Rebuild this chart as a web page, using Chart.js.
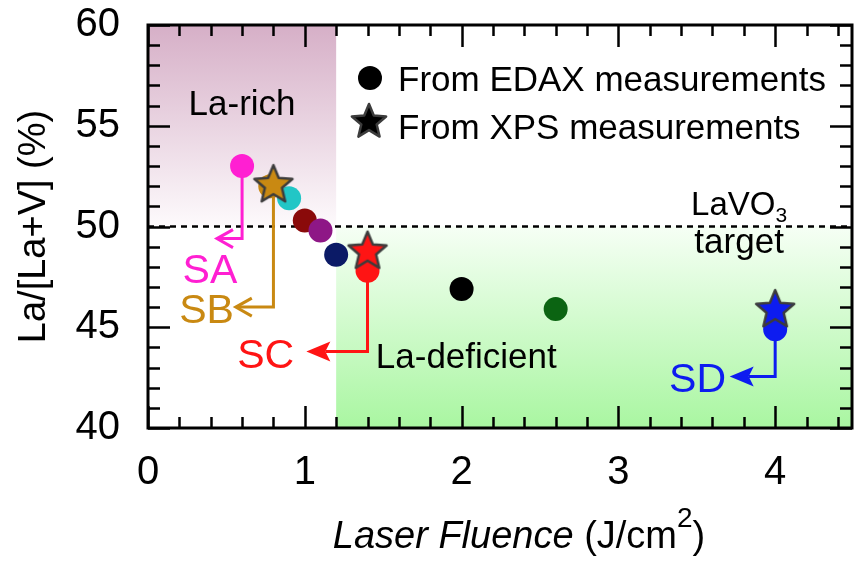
<!DOCTYPE html>
<html>
<head>
<meta charset="utf-8">
<script src="https://cdn.jsdelivr.net/npm/chart.js@4.4.1/dist/chart.umd.min.js"></script>
<style>
  html, body { margin: 0; padding: 0; background: #fff; }
</style>
</head>
<body>
<canvas id="fluenceChart" width="854" height="561"></canvas>
<script>
// EDAX results (circles)
const edaxFluence = [0.6, 0.78, 0.9, 1.0, 1.1, 1.2, 1.4, 2.0, 2.6, 4.0];
const edaxRatio = [53.0, 52.0, 51.4, 50.3, 49.8, 48.6, 47.8, 46.9, 45.9, 44.9];
const edaxColors = ['#ff1fd2', '#c98912', '#22c6c6', '#8a0a0a', '#8e1786', '#0b1a66', '#ff1414', '#000000', '#0b6412', '#0d1cf0'];

// XPS results (stars)
const xpsFluence = [0.8, 1.4, 4.0];
const xpsRatio = [52.1, 48.8, 45.9];
const xpsColors = ['#c98912', '#ff1414', '#0d1cf0'];

// axes
const xTicks = [0, 1, 2, 3, 4];
const yTicks = [40, 45, 50, 55, 60];
const targetRatio = 50;   // LaVO3 target
const richLimit = 1.2;    // fluence boundary of the shaded areas

// sample callouts (data units): start point, bend y, arrow tip x, label position
const callouts = [
  { name: 'SA', color: '#ff1fd2', x0: 0.6, y0: 53.0, yBend: 49.4, xTip: 0.44, lx: 0.395, ly: 47.2, head: 'open' },
  { name: 'SB', color: '#c98912', x0: 0.8, y0: 52.1, yBend: 46.0, xTip: 0.56, lx: 0.373, ly: 45.2, head: 'open' },
  { name: 'SC', color: '#ff1414', x0: 1.4, y0: 47.8, yBend: 43.8, xTip: 1.01, lx: 0.751, ly: 43.0, head: 'solid' },
  { name: 'SD', color: '#0d1cf0', x0: 4.0, y0: 44.9, yBend: 42.55, xTip: 3.71, lx: 3.505, ly: 41.8, head: 'solid' }
];

const FONT = "'Liberation Sans', Arial, Helvetica, sans-serif";

function starPath(ctx, cx, cy, rOut, rIn) {
  ctx.beginPath();
  for (let i = 0; i < 10; i++) {
    const r = i % 2 === 0 ? rOut : rIn;
    const a = -Math.PI / 2 + i * Math.PI / 5;
    const px = cx + r * Math.cos(a), py = cy + r * Math.sin(a);
    if (i === 0) ctx.moveTo(px, py); else ctx.lineTo(px, py);
  }
  ctx.closePath();
}

function makeStar(color, rOut) {
  const c = document.createElement('canvas');
  const size = Math.ceil(rOut * 2 + 6);
  c.width = size; c.height = size;
  const g = c.getContext('2d');
  starPath(g, size / 2, size / 2 + 1, rOut, rOut * 0.45);
  g.fillStyle = color;
  g.fill();
  g.lineWidth = 2.5;
  g.lineJoin = 'round';
  g.strokeStyle = '#3c3c3c';
  g.stroke();
  return c;
}

const starImages = xpsColors.map(c => makeStar(c, 20));
const legendStar = makeStar('#000000', 18);

function arrowHead(ctx, tipX, tipY, kind, color) {
  ctx.save();
  if (kind === 'open') {
    ctx.beginPath();
    ctx.moveTo(tipX + 16, tipY - 9);
    ctx.lineTo(tipX, tipY);
    ctx.lineTo(tipX + 16, tipY + 9);
    ctx.strokeStyle = color;
    ctx.lineWidth = 3;
    ctx.stroke();
  } else {
    ctx.beginPath();
    ctx.moveTo(tipX, tipY);
    ctx.lineTo(tipX + 24, tipY - 10);
    ctx.lineTo(tipX + 19, tipY);
    ctx.lineTo(tipX + 24, tipY + 10);
    ctx.closePath();
    ctx.fillStyle = color;
    ctx.fill();
  }
  ctx.restore();
}

// keep the plot box where the reference has it (no label overhang padding)
function noOverhang(s) {
  s.paddingTop = 0; s.paddingBottom = 0; s.paddingLeft = 0; s.paddingRight = 0;
}

const decorations = {
  id: 'decorations',
  beforeDatasetsDraw(chart) {
    const { ctx, chartArea: a, scales: { x, y } } = chart;
    const xr = x.getPixelForValue(richLimit);
    const yt = y.getPixelForValue(targetRatio);
    ctx.save();
    // La-rich area
    let g = ctx.createLinearGradient(0, a.top, 0, yt);
    g.addColorStop(0, '#d6afc7');
    g.addColorStop(1, '#fdfafc');
    ctx.fillStyle = g;
    ctx.fillRect(a.left, a.top, xr - a.left, yt - a.top);
    // La-deficient area
    g = ctx.createLinearGradient(0, yt, 0, a.bottom);
    g.addColorStop(0, '#f6fff5');
    g.addColorStop(1, '#a9f6a1');
    ctx.fillStyle = g;
    ctx.fillRect(xr, yt, a.right - xr, a.bottom - yt);

    // target line
    ctx.beginPath();
    ctx.setLineDash([6, 5]);
    ctx.moveTo(a.left, yt);
    ctx.lineTo(a.right, yt);
    ctx.strokeStyle = '#000';
    ctx.lineWidth = 2.5;
    ctx.stroke();
    ctx.setLineDash([]);

    // callout lines
    callouts.forEach(c => {
      const px = x.getPixelForValue(c.x0), py = y.getPixelForValue(c.y0);
      const by = y.getPixelForValue(c.yBend), tx = x.getPixelForValue(c.xTip);
      ctx.beginPath();
      ctx.moveTo(px, py);
      ctx.lineTo(px, by);
      ctx.lineTo(tx + (c.head === 'solid' ? 19 : 1), by);
      ctx.strokeStyle = c.color;
      ctx.lineWidth = 3;
      ctx.stroke();
      arrowHead(ctx, tx, by, c.head, c.color);
    });
    ctx.restore();
  },
  afterDatasetsDraw(chart) {
    const { ctx, chartArea: a, scales: { x, y } } = chart;
    ctx.save();
    ctx.textBaseline = 'alphabetic';

    // callout labels
    ctx.textAlign = 'center';
    ctx.font = `41px ${FONT}`;
    callouts.forEach(c => {
      ctx.fillStyle = c.color;
      ctx.fillText(c.name, x.getPixelForValue(c.lx), y.getPixelForValue(c.ly));
    });

    // area labels
    ctx.fillStyle = '#000';
    ctx.font = `35px ${FONT}`;
    ctx.fillText('La-rich', x.getPixelForValue(0.6), y.getPixelForValue(55.53));
    ctx.fillText('La-deficient', x.getPixelForValue(2.03), y.getPixelForValue(42.98));

    // LaVO3 target
    const cx = x.getPixelForValue(3.77);
    ctx.font = `33px ${FONT}`;
    const w1 = ctx.measureText('LaVO').width;
    ctx.font = `21px ${FONT}`;
    const w2 = ctx.measureText('3').width;
    let sx = cx - (w1 + w2) / 2;
    const by = y.getPixelForValue(50.57);
    ctx.textAlign = 'left';
    ctx.font = `33px ${FONT}`;
    ctx.fillText('LaVO', sx, by);
    ctx.font = `21px ${FONT}`;
    ctx.fillText('3', sx + w1, by + 7);
    ctx.textAlign = 'center';
    ctx.font = `35px ${FONT}`;
    ctx.fillText('target', cx, y.getPixelForValue(48.7));

    // legend
    const lx = a.left + 222;
    ctx.beginPath();
    ctx.arc(lx, a.top + 53, 12, 0, Math.PI * 2);
    ctx.fillStyle = '#000';
    ctx.fill();
    ctx.drawImage(legendStar, lx - 1 - legendStar.width / 2, a.top + 96 - legendStar.height / 2);
    ctx.textAlign = 'left';
    ctx.font = `35px ${FONT}`;
    const ds = chart.data.datasets;
    ctx.fillText(ds[1].label, a.left + 250, a.top + 66);
    ctx.fillText(ds[0].label, a.left + 250, a.top + 114);

    // frame and inward ticks
    ctx.strokeStyle = '#000';
    ctx.lineWidth = 3;
    ctx.strokeRect(a.left, a.top, a.right - a.left, a.bottom - a.top);
    ctx.lineWidth = 2.5;
    ctx.beginPath();
    for (let i = 0; i <= Math.round(x.max / 0.2); i++) {
      const v = i * 0.2;
      const len = xTicks.some(t => Math.abs(t - v) < 1e-6) ? 22 : 11;
      const px = Math.round(x.getPixelForValue(v)) + 0.5;
      ctx.moveTo(px, a.bottom); ctx.lineTo(px, a.bottom - len);
      ctx.moveTo(px, a.top); ctx.lineTo(px, a.top + len);
    }
    for (let v = y.min; v <= y.max; v++) {
      const len = yTicks.includes(v) ? 22 : 12;
      const py = Math.round(y.getPixelForValue(v)) + 0.5;
      ctx.moveTo(a.left, py); ctx.lineTo(a.left + len, py);
      ctx.moveTo(a.right, py); ctx.lineTo(a.right - len, py);
    }
    ctx.stroke();

    // x axis title with italic part and superscript
    const parts = [
      { t: 'Laser Fluence', f: `italic 38px ${FONT}`, dy: 0 },
      { t: ' (J/cm', f: `38px ${FONT}`, dy: 0 },
      { t: '2', f: `28px ${FONT}`, dy: -21 },
      { t: ')', f: `38px ${FONT}`, dy: 0 }
    ];
    let total = 0;
    parts.forEach(p => { ctx.font = p.f; p.w = ctx.measureText(p.t).width; total += p.w; });
    let tx = (a.left + a.right) / 2 + 19 - total / 2;
    const tb = a.bottom + 120;
    parts.forEach(p => {
      ctx.font = p.f;
      ctx.fillText(p.t, tx, tb + p.dy);
      tx += p.w;
    });
    ctx.restore();
  }
};

const ctx = document.getElementById('fluenceChart').getContext('2d');
new Chart(ctx, {
  type: 'scatter',
  data: {
    datasets: [{
      label: 'From XPS measurements',
      data: xpsFluence.map((v, i) => ({ x: v, y: xpsRatio[i] })),
      pointStyle: starImages,
      pointRadius: 20,
      pointBorderWidth: 0
    }, {
      label: 'From EDAX measurements',
      data: edaxFluence.map((v, i) => ({ x: v, y: edaxRatio[i] })),
      pointStyle: 'circle',
      pointRadius: 12,
      pointBackgroundColor: edaxColors,
      pointBorderWidth: 0
    }]
  },
  options: {
    responsive: false,
    animation: false,
    events: [],
    layout: { autoPadding: false, padding: { top: 25, right: 2, left: 0, bottom: 0 } },
    plugins: { legend: { display: false }, tooltip: { enabled: false } },
    scales: {
      x: {
        type: 'linear',
        min: 0,
        max: 4.49,
        afterBuildTicks: s => { s.ticks = xTicks.map(v => ({ value: v })); },
        afterFit: s => { s.height = 133; noOverhang(s); },
        grid: { display: false },
        border: { display: false },
        ticks: { color: '#000', font: { family: FONT, size: 40 }, padding: 13, maxRotation: 0, autoSkip: false }
      },
      y: {
        type: 'linear',
        min: 40,
        max: 60,
        afterBuildTicks: s => { s.ticks = yTicks.map(v => ({ value: v })); },
        afterFit: s => { s.width = 148; noOverhang(s); },
        grid: { display: false },
        border: { display: false },
        ticks: { color: '#000', font: { family: FONT, size: 40 }, padding: 20, autoSkip: false },
        title: {
          display: true,
          text: 'La/[La+V] (%)',
          color: '#000',
          font: { family: FONT, size: 38 },
          padding: { top: 12, bottom: 0 }
        }
      }
    }
  },
  plugins: [decorations]
});
</script>
</body>
</html>
